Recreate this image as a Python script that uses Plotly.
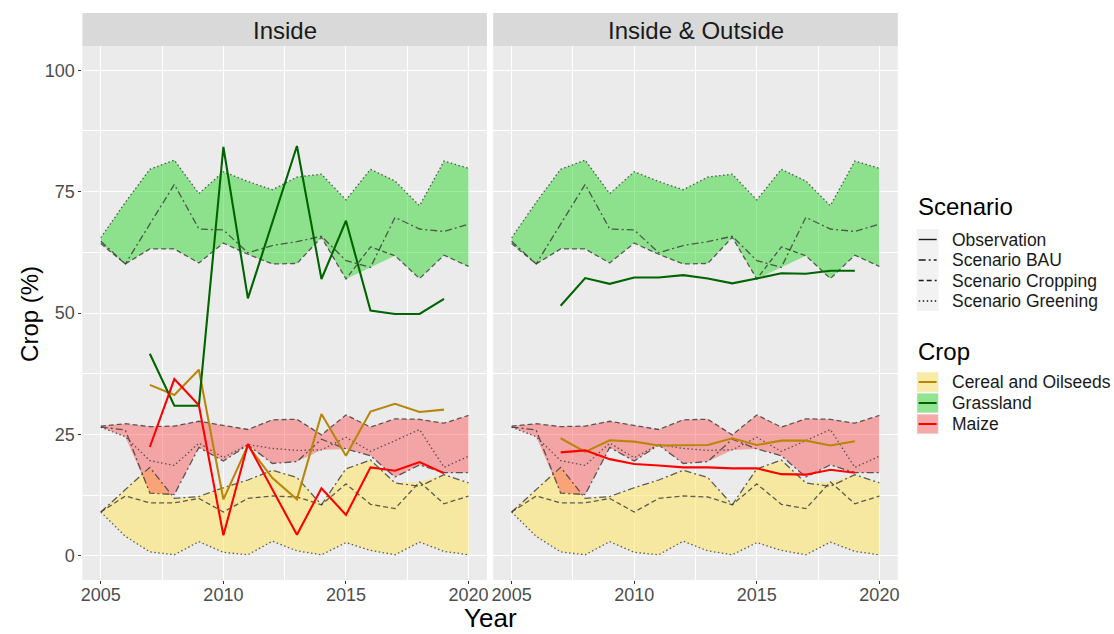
import numpy as np
import plotly.graph_objects as go

# ---------------------------------------------------------------- data
years = list(range(2005, 2021))
obs_years = list(range(2007, 2020))
panels = ["Inside", "Inside & Outside"]
crops = ["Cereal and Oilseeds", "Grassland", "Maize"]
scenarios = ["Observation", "Scenario BAU", "Scenario Cropping", "Scenario Greening"]

# scenario projections, share of crop (%), 2005-2020
cereal_bau = [9.0, 13.5, 18.2, 11.8, 12.2, 14.0, 15.6, 17.6, 16.1, 10.5, 17.9, 19.7, 15.0, 14.3, 16.7, 15.0]
cereal_cropping = [9.0, 12.3, 10.9, 10.9, 11.8, 9.0, 11.8, 12.3, 12.1, 10.5, 14.8, 10.6, 9.7, 15.2, 10.7, 12.3]
cereal_greening = [9.0, 4.0, 0.8, 0.2, 2.9, 0.7, 0.2, 3.0, 1.0, 0.2, 2.7, 1.1, 0.2, 2.8, 0.9, 0.2]

grass_bau = [64.8, 60.1, 68.3, 76.5, 67.3, 67.1, 62.4, 63.9, 64.7, 65.8, 60.8, 59.4, 69.7, 67.3, 66.8, 68.3]
grass_cropping = [64.3, 60.1, 63.2, 63.2, 60.3, 64.4, 62.1, 60.1, 60.2, 65.6, 57.0, 63.6, 61.8, 57.1, 61.9, 59.6]
grass_greening = [65.5, 72.8, 79.6, 81.5, 74.6, 79.1, 77.1, 75.4, 78.0, 78.6, 73.3, 79.6, 77.2, 72.1, 81.3, 79.8]

maize_bau = [26.5, 25.9, 12.9, 12.6, 22.3, 19.5, 22.8, 19.0, 19.4, 24.0, 22.0, 20.6, 16.2, 18.7, 17.1, 17.1]
maize_cropping = [26.7, 27.2, 26.6, 26.7, 27.7, 26.9, 26.0, 28.0, 28.1, 24.9, 29.0, 26.5, 28.2, 28.1, 27.3, 28.9]
maize_greening = [26.5, 24.5, 19.6, 18.6, 23.2, 20.2, 22.9, 22.1, 21.7, 21.8, 24.4, 21.5, 23.7, 26.0, 18.2, 20.5]

# observed shares (%), 2007-2019
obs_inside_cereal = [35.2, 33.1, 38.3, 11.6, 22.7, 16.0, 11.6, 29.2, 20.6, 29.7, 31.3, 29.6, 30.1]
obs_inside_grass = [41.6, 30.9, 30.9, 84.2, 53.0, 68.7, 84.4, 57.0, 69.0, 50.5, 49.8, 49.8, 52.9]
obs_inside_maize = [22.4, 36.4, 31.0, 4.2, 23.0, 13.7, 4.3, 13.9, 8.4, 18.2, 17.5, 19.3, 17.0]

obs_all_cereal = [24.2, 21.4, 23.8, 23.5, 22.7, 22.7, 22.8, 24.2, 22.8, 23.7, 23.7, 22.7, 23.6]
obs_all_grass = [51.5, 57.2, 56.0, 57.3, 57.3, 57.8, 57.1, 56.1, 57.1, 58.2, 58.1, 58.7, 58.7]
obs_all_maize = [21.3, 21.7, 19.9, 18.9, 18.6, 18.2, 18.2, 18.0, 18.0, 16.8, 16.7, 17.7, 17.1]

# ---------------------------------------------------------------- styles
FONT = "Liberation Sans, Arial, sans-serif"
W, H = 1114, 634
fills = {
    "Cereal and Oilseeds": "rgba(255,230,100,0.55)",
    "Grassland": "rgba(0,210,0,0.40)",
    "Maize": "rgba(255,60,60,0.40)",
}
obs_colors = {
    "Cereal and Oilseeds": "#B8860B",
    "Grassland": "#006400",
    "Maize": "#FF0000",
}
dashes = {
    "Observation": "solid",
    "Scenario BAU": "7px,3px,2px,3px",
    "Scenario Cropping": "5px,3px",
    "Scenario Greening": "1.5px,2.5px",
}
scen_color = "rgba(55,55,55,0.8)"

scenario_data = {
    "Cereal and Oilseeds": [cereal_bau, cereal_cropping, cereal_greening],
    "Grassland": [grass_bau, grass_cropping, grass_greening],
    "Maize": [maize_bau, maize_cropping, maize_greening],
}
observed = {
    "Inside": [obs_inside_cereal, obs_inside_grass, obs_inside_maize],
    "Inside & Outside": [obs_all_cereal, obs_all_grass, obs_all_maize],
}


def px(x):
    return x / W


def py(y):
    return 1 - y / H


fig = go.Figure()

for i, panel in enumerate(panels):
    xa = "x" if i == 0 else "x2"
    ya = "y" if i == 0 else "y2"
    # ribbons spanning the scenario range
    for crop in crops:
        arr = np.array(scenario_data[crop])
        lo = arr.min(axis=0)
        hi = arr.max(axis=0)
        fig.add_trace(go.Scatter(x=years, y=lo, mode="lines", line=dict(width=0),
                                 xaxis=xa, yaxis=ya, showlegend=False, hoverinfo="skip"))
        fig.add_trace(go.Scatter(x=years, y=hi, mode="lines", line=dict(width=0),
                                 fill="tonexty", fillcolor=fills[crop],
                                 xaxis=xa, yaxis=ya, showlegend=False, hoverinfo="skip"))
    # scenario lines
    for crop in crops:
        for name, vals in zip(scenarios[1:], scenario_data[crop]):
            fig.add_trace(go.Scatter(x=years, y=vals, mode="lines",
                                     line=dict(color=scen_color, width=1.3, dash=dashes[name]),
                                     xaxis=xa, yaxis=ya, showlegend=False,
                                     name=f"{crop} - {name}"))
    # observations
    for crop, vals in zip(crops, observed[panel]):
        fig.add_trace(go.Scatter(x=obs_years, y=vals, mode="lines",
                                 line=dict(color=obs_colors[crop], width=2.1),
                                 xaxis=xa, yaxis=ya, showlegend=False,
                                 name=f"{crop} - Observation"))

# ---------------------------------------------------------------- axes
x_common = dict(
    range=[2004.25, 2020.75], tick0=2005, dtick=5, ticks="outside", ticklen=3,
    tickcolor="#333333", tickwidth=1, showgrid=True, gridcolor="white", gridwidth=1.1,
    zeroline=False, showline=False, ticklabelstandoff=-5,
    tickfont=dict(family=FONT, size=18, color="#4D4D4D"),
    minor=dict(tick0=2005, dtick=2.5, showgrid=True, gridcolor="white", gridwidth=0.55),
)
y_common = dict(
    range=[-5, 105], tick0=0, dtick=25, showgrid=True, gridcolor="white", gridwidth=1.1,
    zeroline=False, showline=False,
    minor=dict(tick0=0, dtick=12.5, showgrid=True, gridcolor="white", gridwidth=0.55),
    domain=[py(580), py(46)],
)

fig.update_layout(
    width=W, height=H,
    margin=dict(l=0, r=0, t=0, b=0),
    paper_bgcolor="white",
    plot_bgcolor="#EBEBEB",
    showlegend=False,
    font=dict(family=FONT),
    xaxis=dict(domain=[px(80.7), px(486.7)], anchor="y", **x_common),
    xaxis2=dict(domain=[px(493), px(899)], anchor="y2", **x_common),
    yaxis=dict(anchor="x", ticks="outside", ticklen=3, tickcolor="#333333", tickwidth=1,
               tickfont=dict(family=FONT, size=18, color="#4D4D4D"), **y_common),
    yaxis2=dict(anchor="x2", matches="y", showticklabels=False, ticks="", **y_common),
)

shapes = []
annotations = []

# facet strips
for xa, label in zip(["x", "x2"], panels):
    shapes.append(dict(type="rect", xref=f"{xa} domain", yref="paper", x0=0, x1=1,
                       y0=py(46), y1=py(13), fillcolor="#D9D9D9", line=dict(width=0)))
    annotations.append(dict(text=label, xref=f"{xa} domain", yref="paper", x=0.5, y=py(30),
                            xanchor="center", yanchor="middle", showarrow=False,
                            font=dict(family=FONT, size=24, color="#1A1A1A")))

# axis titles
annotations.append(dict(text="Year", xref="paper", yref="paper", x=px(490), y=py(618),
                        xanchor="center", yanchor="middle", showarrow=False,
                        font=dict(family=FONT, size=26, color="black")))
annotations.append(dict(text="Crop (%)", xref="paper", yref="paper", x=px(27), y=py(314),
                        xanchor="center", yanchor="middle", showarrow=False, textangle=-90,
                        font=dict(family=FONT, size=24, color="black")))

# legend: Scenario
annotations.append(dict(text="Scenario", xref="paper", yref="paper", x=px(917), y=py(207),
                        xanchor="left", yanchor="middle", showarrow=False,
                        font=dict(family=FONT, size=24, color="black")))
shapes.append(dict(type="rect", xref="paper", yref="paper", x0=px(918), x1=px(940),
                   y0=py(311), y1=py(229), fillcolor="#F2F2F2", line=dict(width=0)))
scen_centres = [239.5, 260, 280.5, 301]
for name, cy in zip(scenarios, scen_centres):
    shapes.append(dict(type="line", xref="paper", yref="paper", x0=px(920), x1=px(938),
                       y0=py(cy), y1=py(cy),
                       line=dict(color="#1A1A1A", width=1.4, dash=dashes[name])))
    annotations.append(dict(text=name, xref="paper", yref="paper", x=px(951), y=py(cy),
                            xanchor="left", yanchor="middle", showarrow=False,
                            font=dict(family=FONT, size=17.5, color="#1A1A1A")))

# legend: Crop
annotations.append(dict(text="Crop", xref="paper", yref="paper", x=px(917), y=py(351),
                        xanchor="left", yanchor="middle", showarrow=False,
                        font=dict(family=FONT, size=24, color="black")))
crop_centres = [382, 403, 424]
for crop, cy in zip(crops, crop_centres):
    shapes.append(dict(type="rect", xref="paper", yref="paper", x0=px(918), x1=px(940),
                       y0=py(cy + 10), y1=py(cy - 10), fillcolor="#F2F2F2", line=dict(width=0)))
    shapes.append(dict(type="rect", xref="paper", yref="paper", x0=px(918.5), x1=px(939.5),
                       y0=py(cy + 9.5), y1=py(cy - 9.5), fillcolor=fills[crop], line=dict(width=0)))
    shapes.append(dict(type="line", xref="paper", yref="paper", x0=px(920), x1=px(938),
                       y0=py(cy), y1=py(cy), line=dict(color=obs_colors[crop], width=2)))
    annotations.append(dict(text=crop, xref="paper", yref="paper", x=px(951), y=py(cy),
                            xanchor="left", yanchor="middle", showarrow=False,
                            font=dict(family=FONT, size=17.5, color="#1A1A1A")))

fig.update_layout(shapes=shapes, annotations=annotations)

fig.write_html("out.html")
